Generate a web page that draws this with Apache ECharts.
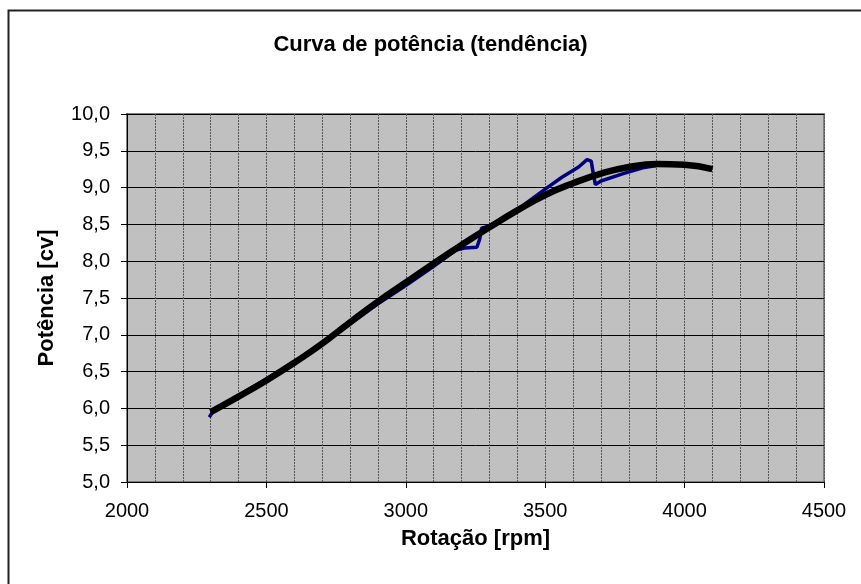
<!DOCTYPE html>
<html>
<head>
<meta charset="utf-8">
<script src="https://cdn.jsdelivr.net/npm/echarts@6/dist/echarts.min.js"></script>
<style>
  html, body { margin: 0; padding: 0; background: #fff; }
  #chart { width: 861px; height: 584px; }
</style>
</head>
<body>
<div id="chart"></div>
<script>
// curva medida (azul)
const medidaRpm = [2295, 2310, 2400, 2500, 2600, 2700, 2800, 2900, 3000, 3100, 3180, 3210, 3255, 3265, 3272, 3300, 3400, 3500, 3560, 3620, 3650, 3665, 3672, 3680, 3700, 3780, 3850, 3900];
const medidaPot = [5.88, 5.97, 6.18, 6.40, 6.63, 6.88, 7.15, 7.42, 7.67, 7.93, 8.15, 8.18, 8.19, 8.30, 8.45, 8.48, 8.70, 8.98, 9.14, 9.28, 9.38, 9.36, 9.20, 9.04, 9.09, 9.19, 9.27, 9.30];
// tendência (preta)
const tendRpm = [2300, 2400, 2500, 2600, 2700, 2800, 2900, 3000, 3100, 3200, 3300, 3400, 3500, 3600, 3700, 3800, 3900, 4000, 4100];
const tendPot = [5.95, 6.16, 6.38, 6.62, 6.88, 7.17, 7.45, 7.71, 7.97, 8.22, 8.46, 8.69, 8.90, 9.06, 9.19, 9.28, 9.32, 9.31, 9.25];

const fonte = "'Liberation Sans', Arial, sans-serif";
const virgula = (v) => v.toFixed(1).replace(".", ",");

const chart = echarts.init(document.getElementById("chart"));
const option = {
	animation: false,
	backgroundColor: "#fff",
	title: {
		text: "Curva de potência (tendência)",
		left: "center",
		top: 29,
		textStyle: { fontFamily: fonte, fontSize: 22, fontWeight: "bold", color: "#000" },
	},
	graphic: [
		{
			// moldura (só esquerda e topo visíveis)
			type: "rect",
			shape: { x: 8.5, y: 10.5, width: 1000, height: 1000 },
			style: { fill: "none", stroke: "#222", lineWidth: 2 },
			silent: true,
		},
	],
	grid: {
		left: 127,
		top: 114,
		right: 37,
		bottom: 102,
		show: true,
		backgroundColor: "#C0C0C0",
		borderColor: "#808080",
		borderWidth: 2,
	},
	xAxis: {
		type: "value",
		min: 2000,
		max: 4500,
		interval: 500,
		name: "Rotação [rpm]",
		nameLocation: "middle",
		nameGap: 46,
		nameTextStyle: { fontFamily: fonte, fontSize: 22, fontWeight: "bold", color: "#000" },
		axisLine: { show: true, lineStyle: { color: "#000", width: 1 } },
		axisTick: { show: true, length: 6, lineStyle: { color: "#000" } },
		axisLabel: { fontFamily: fonte, fontSize: 20, color: "#000", margin: 19, formatter: (v) => String(v) },
		splitLine: { show: true, lineStyle: { color: "#555", width: 1, type: [2, 1] } },
		minorSplitLine: { show: true, lineStyle: { color: "#555", width: 1, type: [2, 1] } },
		minorTick: { show: false, splitNumber: 5 },
	},
	yAxis: {
		type: "value",
		min: 5,
		max: 10,
		interval: 0.5,
		name: "Potência [cv]",
		nameLocation: "middle",
		nameGap: 69,
		nameRotate: 90,
		nameTextStyle: { fontFamily: fonte, fontSize: 22, fontWeight: "bold", color: "#000" },
		axisLine: { show: true, lineStyle: { color: "#000", width: 1 } },
		axisTick: { show: true, length: 6, lineStyle: { color: "#000" } },
		axisLabel: { fontFamily: fonte, fontSize: 20, color: "#000", margin: 17, formatter: virgula },
		splitLine: { show: true, lineStyle: { color: "#000", width: 1 } },
	},
	series: [
		{
			name: "Medida",
			type: "line",
			data: medidaRpm.map((r, i) => [r, medidaPot[i]]),
			showSymbol: false,
			lineStyle: { color: "#000080", width: 3.5 },
			z: 2,
		},
		{
			name: "Tendência",
			type: "line",
			smooth: true,
			data: tendRpm.map((r, i) => [r, tendPot[i]]),
			showSymbol: false,
			lineStyle: { color: "#000", width: 6.5 },
			z: 3,
		},
	],
};
chart.setOption(option);
</script>
</body>
</html>
